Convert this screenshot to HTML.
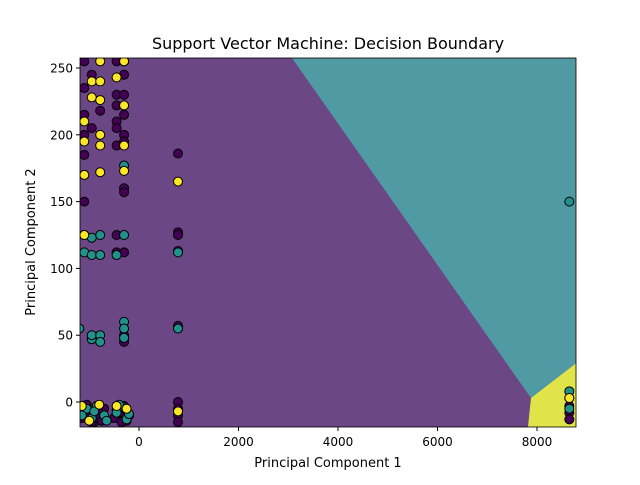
<!DOCTYPE html>
<html><head><meta charset="utf-8"><style>
body{margin:0;background:#fff;font-family:"Liberation Sans","DejaVu Sans",sans-serif}
svg text{font-family:"DejaVu Sans","Liberation Sans",sans-serif}
</style></head><body>
<svg id="chart" width="640" height="480" xmlns="http://www.w3.org/2000/svg">
<rect width="640" height="480" fill="#fff"/>
<defs><clipPath id="clip"><rect x="80" y="58" width="496" height="369"/></clipPath></defs>
<g id="regions" clip-path="url(#clip)"></g>
<g id="points" clip-path="url(#clip)"></g>
<rect x="80" y="58" width="496" height="369" fill="none" stroke="#000" stroke-width="0.8"/>
<g id="axes"></g>
<text x="328" y="49" text-anchor="middle" font-size="16">Support Vector Machine: Decision Boundary</text>
<text x="328" y="467" text-anchor="middle" font-size="13">Principal Component 1</text>
<text x="35" y="242" text-anchor="middle" font-size="13" transform="rotate(-90 35 242)">Principal Component 2</text>
</svg>
<script>
const xTicks=[0,2000,4000,6000,8000];
const yTicks=[0,50,100,150,200,250];
const teal=[[3075,257.5],[7879,3],[8784,29],[8784,257.5]];
const yellow=[[7879,3],[7819,-18.7],[8784,-18.7],[8784,29]];
const purpleX=[-1100,-1100,-1100,-1100,-1100,-1100,-950,-950,-780,-450,-450,-450,-450,-450,-450,-450,-450,-300,-300,-300,-300,-300,-300,-300,-300,-300,-300,-300,784,784,784,784,784,-1100,-1000,-900,-700,-500,-400,-300,-250,-200,784,784,784,784,8650,8650,8650,8650,-1050,-800,-450,-950,-850,-750,-1150,-350,-250];
const purpleY=[255,235,215,200,185,150,245,205,218,255,230,222,210,205,192,112,125,255,245,230,215,200,195,160,157,112,50,45,186,127,125,113,57,-5,-10,-15,-5,-12,-8,-3,-14,-10,0,-5,-10,-15,3,-3,-8,-13,-2,-8,-6,-15,-12,-14,-12,-15,-6];
const yellowX=[-1100,-1100,-1100,-1100,-950,-950,-780,-780,-780,-780,-780,-780,-450,-300,-300,-300,-300,784,-1150,-800,-450,-250,784,8650,-1000];
const yellowY=[210,195,170,125,240,228,255,240,226,200,192,172,243,255,222,192,173,165,-3,-2,-3,-5,-7,3,-14];
const tealX=[-1100,-1100,-1200,-950,-950,-950,-950,-780,-780,-780,-780,-450,-300,-300,-300,-300,-300,784,784,-1050,-950,-850,-700,-450,-350,-250,8650,8650,-1150,-900,-650,-400,-200,8650];
const tealY=[112,125,55,123,110,47,50,125,110,50,45,110,177,125,60,55,48,112,55,-5,-12,-3,-10,-8,-3,-13,8,-5,-10,-7,-14,-2,-9,150];
const X0=-1186,X1=8784,Y0=-18.7,Y1=257.5;
const sx=v=>80+(v-X0)/(X1-X0)*496, sy=v=>427-(v-Y0)/(Y1-Y0)*369;
const NS="http://www.w3.org/2000/svg";
function mk(t,a,p){const e=document.createElementNS(NS,t);for(const k in a)e.setAttribute(k,a[k]);p.appendChild(e);return e;}
const R=document.getElementById('regions');
let bg=mk('rect',{x:80,y:58,width:496,height:369,fill:'#6b4785'},R);


let t=mk('polygon',{points:teal.map(p=>sx(p[0])+','+sy(p[1])).join(' '),fill:'#4f9aa3'},R);


let yl=mk('polygon',{points:yellow.map(p=>sx(p[0])+','+sy(p[1])).join(' '),fill:'#e0e449'},R);


const P=document.getElementById('points');
function series(xs,ys,col,name){xs.forEach((x,i)=>{const c=mk('circle',{cx:sx(x),cy:sy(ys[i]),r:4.5,fill:col,stroke:'#000','stroke-width':1},P);

});}
series(purpleX,purpleY,'#440154','point-class-0');
series(tealX,tealY,'#21918c','point-class-1');
series(yellowX,yellowY,'#fde725','point-class-2');
const A=document.getElementById('axes');
xTicks.forEach(v=>{const x=sx(v);mk('line',{x1:x,x2:x,y1:427,y2:431,stroke:'#000'},A);
const tx=mk('text',{x:x,y:446,'text-anchor':'middle','font-size':12},A);tx.textContent=v;

});
yTicks.forEach(v=>{const y=sy(v);mk('line',{x1:76,x2:80,y1:y,y2:y,stroke:'#000'},A);
const tx=mk('text',{x:73,y:y+4.5,'text-anchor':'end','font-size':12},A);tx.textContent=v;

});
</script>
</body></html>
